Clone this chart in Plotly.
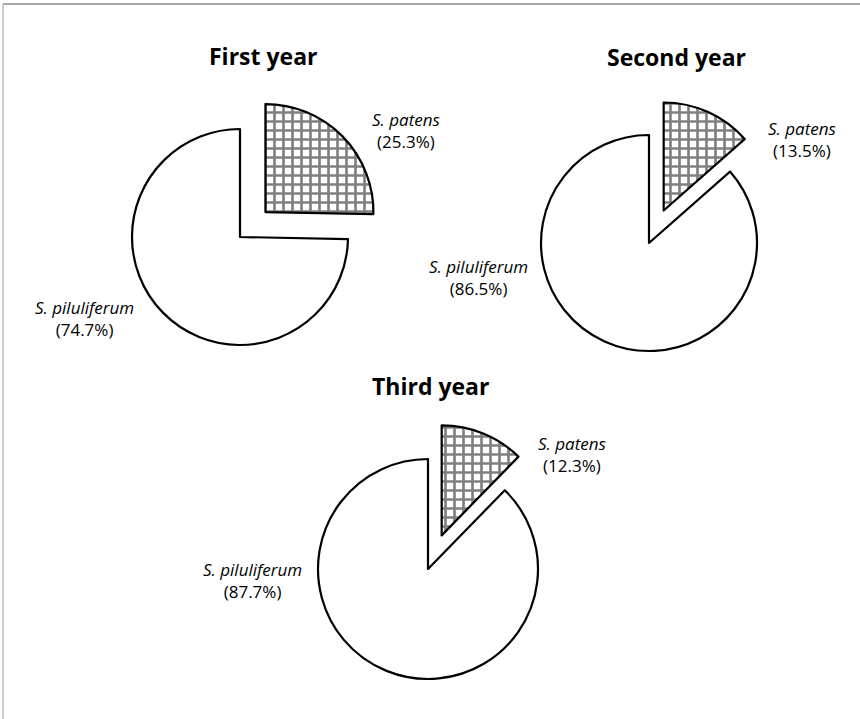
import plotly.graph_objects as go

years = ["First year", "Second year", "Third year"]
species = ["S. patens", "S. piluliferum"]
patens_pct = [25.3, 13.5, 12.3]
pilul_pct = [74.7, 86.5, 87.7]

W, H = 860, 719
FONT = "Open Sans"

# layout (pixel) specs per pie: center x, center y, radius
centers = [(240, 237, 108), (649, 243, 108), (428, 569, 110)]
PULL = 0.33

def dom(cx, cy, r):
    half = r * (1 + PULL)
    return dict(x=[(cx - half) / W, (cx + half) / W],
                y=[1 - (cy + half) / H, 1 - (cy - half) / H])

fig = go.Figure()
for i, (cx, cy, r) in enumerate(centers):
    fig.add_trace(go.Pie(
        labels=species,
        values=[patens_pct[i], pilul_pct[i]],
        sort=False,
        direction="clockwise",
        rotation=0,
        pull=[PULL, 0],
        textinfo="none",
        hoverinfo="label+value",
        showlegend=False,
        domain=dom(cx, cy, r),
        marker=dict(
            colors=["white", "white"],
            line=dict(color="black", width=2.2),
            pattern=dict(shape=["+", ""], fgcolor="black", bgcolor="white",
                         size=9, solidity=0.5, fillmode="overlay"),
        ),
    ))

# titles
title_pos = [(263, 56), (676, 57), (430, 386)]
for t, (x, y) in zip(years, title_pos):
    fig.add_annotation(x=x / W, y=1 - y / H, xref="paper", yref="paper",
                       text="<b>" + t + "</b>", showarrow=False,
                       font=dict(family=FONT, size=23, color="black"),
                       xanchor="center", yanchor="middle")

# slice labels
patens_lab = [(406, 131), (802, 140), (572, 454)]
pilul_lab = [(84, 318), (478, 278), (253, 580)]
for i in range(3):
    for (x, y), name, v in [(patens_lab[i], species[0], patens_pct[i]),
                            (pilul_lab[i], species[1], pilul_pct[i])]:
        fig.add_annotation(x=x / W, y=1 - y / H, xref="paper", yref="paper",
                           text="<i>" + name + "</i><br>(" + f"{v:.1f}" + "%)",
                           showarrow=False, align="center",
                           font=dict(family=FONT, size=17, color="black"),
                           xanchor="center", yanchor="middle")

# frame
fig.add_shape(type="line", xref="paper", yref="paper",
              x0=3 / W, x1=1, y0=1 - 4 / H, y1=1 - 4 / H,
              line=dict(color="#888888", width=1.5))
fig.add_shape(type="line", xref="paper", yref="paper",
              x0=3 / W, x1=3 / W, y0=0, y1=1 - 4 / H,
              line=dict(color="#bbbbbb", width=1.5))

fig.update_layout(width=W, height=H, margin=dict(l=0, r=0, t=0, b=0),
                  paper_bgcolor="white", plot_bgcolor="white",
                  font=dict(family=FONT))
fig.write_html("out.html", config={"displayModeBar": False},
               post_script="document.body.style.margin='0';document.body.style.padding='0';")
